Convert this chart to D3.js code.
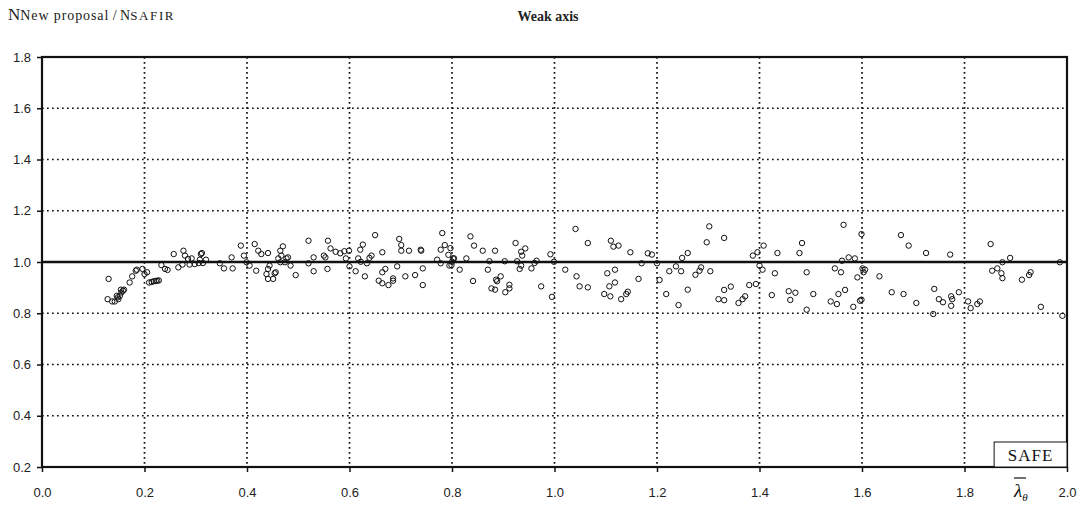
<!DOCTYPE html>
<html>
<head>
<meta charset="utf-8">
<script src="https://cdn.jsdelivr.net/npm/d3@7"></script>
<style>
  body { margin: 0; background: #fff; }
  svg { display: block; }
</style>
</head>
<body>
<svg id="chart" width="1085" height="506"></svg>
<script>
// Relative slenderness (lambda-bar theta) of each column
const slenderness = [
  0.130,0.128,0.137,0.142,0.146,0.148,0.149,0.152,0.154,0.155,0.158,0.160,0.171,0.176,0.183,0.185,
  0.196,0.200,0.205,0.209,0.214,0.218,0.222,0.225,0.228,0.233,0.240,0.245,0.257,0.266,0.274,0.276,
  0.279,0.285,0.288,0.292,0.298,0.306,0.308,0.310,0.312,0.314,0.320,0.347,0.355,0.370,0.372,0.388,
  0.394,0.399,0.405,0.415,0.418,0.422,0.428,0.438,0.441,0.441,0.441,0.444,0.451,0.454,0.456,0.461,
  0.465,0.465,0.467,0.470,0.474,0.477,0.480,0.485,0.495,0.520,0.520,0.530,0.530,0.550,0.553,0.557,
  0.558,0.563,0.573,0.582,0.590,0.593,0.599,0.600,0.612,0.617,0.621,0.622,0.626,0.630,0.634,0.639,
  0.643,0.650,0.657,0.664,0.664,0.664,0.670,0.676,0.685,0.685,0.693,0.697,0.701,0.701,0.709,0.716,
  0.728,0.739,0.740,0.743,0.743,0.771,0.778,0.778,0.781,0.786,0.793,0.795,0.797,0.799,0.800,0.802,
  0.804,0.815,0.828,0.836,0.841,0.843,0.860,0.870,0.873,0.877,0.884,0.884,0.886,0.888,0.895,0.903,
  0.904,0.912,0.912,0.924,0.927,0.932,0.935,0.935,0.937,0.943,0.955,0.961,0.965,0.974,0.992,0.995,
  0.999,1.021,1.041,1.043,1.049,1.065,1.065,1.097,1.103,1.107,1.109,1.110,1.115,1.118,1.118,1.125,
  1.130,1.140,1.143,1.148,1.164,1.170,1.182,1.190,1.200,1.205,1.218,1.224,1.237,1.242,1.247,1.249,
  1.260,1.260,1.275,1.283,1.286,1.297,1.302,1.304,1.320,1.331,1.331,1.331,1.344,1.359,1.367,1.372,
  1.380,1.387,1.393,1.396,1.400,1.406,1.408,1.424,1.430,1.435,1.457,1.460,1.470,1.478,1.483,1.492,
  1.492,1.505,1.539,1.547,1.551,1.554,1.559,1.561,1.564,1.567,1.574,1.583,1.586,1.591,1.596,1.599,
  1.599,1.601,1.603,1.606,1.634,1.658,1.676,1.681,1.691,1.706,1.725,1.739,1.741,1.750,1.758,1.772,
  1.774,1.774,1.776,1.789,1.807,1.812,1.825,1.830,1.851,1.854,1.864,1.872,1.874,1.874,1.889,1.912,
  1.926,1.929,1.949,1.986,1.991
];

// Ratio N(new proposal) / N(SAFIR) for the same columns
const ratio = [
  0.934,0.855,0.846,0.846,0.868,0.862,0.855,0.868,0.892,0.881,0.888,0.892,0.920,0.944,0.966,0.970,
  0.973,0.953,0.960,0.920,0.922,0.925,0.926,0.927,0.928,0.988,0.973,0.969,1.031,0.979,0.990,1.044,
  1.025,1.012,0.990,1.014,0.992,0.996,1.009,1.031,1.035,0.996,1.009,0.995,0.975,1.018,0.975,1.064,
  1.025,0.999,0.986,1.070,0.966,1.044,1.031,0.953,1.035,0.973,0.934,0.986,0.934,0.956,0.960,1.014,
  1.044,0.999,1.025,1.061,0.999,1.014,1.018,0.986,0.949,1.083,0.995,1.018,0.964,1.025,1.018,0.973,
  1.083,1.053,1.040,1.034,1.042,1.014,1.044,0.983,0.964,1.014,1.048,1.001,1.068,0.944,0.995,1.016,
  1.025,1.105,0.927,1.038,0.960,0.917,0.973,0.910,0.927,0.936,0.983,1.090,1.066,1.044,0.944,1.044,
  0.949,1.048,1.044,0.975,0.910,1.009,1.048,0.995,1.113,1.066,1.028,0.986,1.054,0.988,1.001,1.014,
  1.014,0.970,1.014,1.100,0.926,1.064,1.044,0.970,1.003,0.897,1.044,0.892,0.931,0.925,0.944,1.003,
  0.882,0.911,0.897,1.074,1.003,0.973,1.040,0.986,1.025,1.053,0.975,0.996,1.005,0.905,1.030,0.864,
  1.001,0.970,1.129,0.944,0.905,1.074,0.901,0.875,0.956,0.905,0.866,1.083,1.060,0.970,0.920,1.064,
  0.855,0.875,0.884,1.038,0.934,0.995,1.034,1.029,0.995,0.930,0.875,0.964,0.983,0.832,0.964,1.016,
  1.035,0.892,0.950,0.966,0.979,1.077,1.139,0.964,0.855,0.851,0.891,1.094,0.904,0.840,0.855,0.866,
  0.910,1.025,0.914,1.038,0.986,0.970,1.064,0.871,0.956,1.035,0.886,0.852,0.880,1.035,1.074,0.960,
  0.814,0.875,0.846,0.975,0.836,0.875,0.960,1.005,1.145,0.891,1.018,0.825,1.014,0.940,0.849,0.853,
  1.109,0.975,0.960,0.970,0.944,0.882,1.105,0.875,1.064,0.840,1.035,0.797,0.895,0.855,0.843,1.029,
  0.866,0.829,0.855,0.882,0.846,0.820,0.836,0.846,1.070,0.966,0.975,0.956,0.937,0.999,1.016,0.931,
  0.949,0.960,0.825,0.999,0.790
];

const xTicks = [0.0, 0.2, 0.4, 0.6, 0.8, 1.0, 1.2, 1.4, 1.6, 1.8, 2.0];
const yTicks = [0.2, 0.4, 0.6, 0.8, 1.0, 1.2, 1.4, 1.6, 1.8];
const referenceRatio = 1.0;

const svg = d3.select("#chart");
const plot = { left: 42, right: 1067, top: 57, bottom: 467 };

const x = d3.scaleLinear().domain([0, 2]).range([plot.left, plot.right]);
const y = d3.scaleLinear().domain([0.2, 1.8]).range([plot.bottom, plot.top]);
const fmt = d3.format(".1f");

const serif = "'Liberation Serif', 'Times New Roman', serif";
const sans = "'Liberation Sans', Arial, sans-serif";

// Dotted grid (inner lines only)
const grid = svg.append("g").attr("stroke", "#111").attr("stroke-width", 1.7)
  .attr("stroke-dasharray", "1.7,3.3");
grid.selectAll("line.v")
  .data(xTicks.filter(d => d > 0 && d < 2))
  .join("line")
  .attr("x1", d => x(d)).attr("x2", d => x(d))
  .attr("y1", plot.top).attr("y2", plot.bottom);
grid.selectAll("line.h")
  .data(yTicks.filter(d => d > 0.2 && d < 1.8 && d !== referenceRatio))
  .join("line")
  .attr("x1", plot.left).attr("x2", plot.right)
  .attr("y1", d => y(d)).attr("y2", d => y(d));

// Reference line at ratio = 1.0
svg.append("line")
  .attr("x1", plot.left).attr("x2", plot.right)
  .attr("y1", y(referenceRatio)).attr("y2", y(referenceRatio))
  .attr("stroke", "#111").attr("stroke-width", 2.4);

// Axes with outward ticks
const xAxis = svg.append("g")
  .attr("transform", `translate(0,${plot.bottom})`)
  .call(d3.axisBottom(x).tickValues(xTicks).tickSize(5).tickFormat(fmt));
const yAxis = svg.append("g")
  .attr("transform", `translate(${plot.left},0)`)
  .call(d3.axisLeft(y).tickValues(yTicks).tickSize(5).tickFormat(fmt));

[xAxis, yAxis].forEach(g => {
  g.select(".domain").remove();
  g.selectAll(".tick line").attr("stroke", "#111").attr("stroke-width", 1.5);
  g.selectAll(".tick text")
    .attr("fill", "#222")
    .style("font-family", sans)
    .style("font-size", "13px");
});
xAxis.selectAll(".tick text").attr("dy", "0.71em").attr("y", 21);
yAxis.selectAll(".tick text").attr("x", -11);

// Plot frame
svg.append("rect")
  .attr("x", plot.left).attr("y", plot.top)
  .attr("width", plot.right - plot.left).attr("height", plot.bottom - plot.top)
  .attr("fill", "none").attr("stroke", "#111").attr("stroke-width", 2.2);

// Scatter points (open circles)
svg.append("g")
  .selectAll("circle")
  .data(d3.zip(slenderness, ratio))
  .join("circle")
  .attr("cx", d => x(d[0]))
  .attr("cy", d => y(d[1]))
  .attr("r", 2.7)
  .attr("fill", "none")
  .attr("stroke", "#111")
  .attr("stroke-width", 1);

// SAFE box in the lower-right corner
const safe = svg.append("g");
safe.append("rect")
  .attr("x", x(1.85) + 4).attr("y", y(0.2) - 25)
  .attr("width", plot.right - x(1.85) - 4).attr("height", 25)
  .attr("fill", "#fff").attr("stroke", "#111").attr("stroke-width", 1);
safe.append("text")
  .attr("x", (x(1.85) + 4 + plot.right) / 2).attr("y", y(0.2) - 6)
  .attr("text-anchor", "middle")
  .style("font-family", serif).style("font-size", "17px")
  .style("letter-spacing", "1px")
  .attr("fill", "#111")
  .text("SAFE");

// Axis title: lambda-bar theta
const lam = svg.append("text")
  .attr("x", 1014).attr("y", 497)
  .style("font-family", serif).attr("fill", "#111");
lam.append("tspan").style("font-style", "italic").style("font-size", "19px").text("λ");
lam.append("tspan").style("font-style", "italic").style("font-size", "11px")
  .attr("dy", 4).text("θ");
svg.append("line")
  .attr("x1", 1014).attr("x2", 1026).attr("y1", 478).attr("y2", 478)
  .attr("stroke", "#111").attr("stroke-width", 1.2);

// Y-axis caption
const cap = svg.append("text")
  .attr("x", 8).attr("y", 20)
  .style("font-family", serif).attr("fill", "#222");
cap.append("tspan").style("font-size", "17px").text("N");
cap.append("tspan").style("font-size", "14px").style("letter-spacing", "0.9px").text("New proposal");
cap.append("tspan").style("font-size", "14px").text(" / N");
cap.append("tspan").style("font-size", "13px").style("letter-spacing", "1.6px").text("SAFIR");

// Chart title
svg.append("text")
  .attr("x", 548).attr("y", 21)
  .attr("text-anchor", "middle")
  .style("font-family", serif).style("font-size", "14px").style("font-weight", "bold")
  .attr("fill", "#222")
  .text("Weak axis");
</script>
</body>
</html>
